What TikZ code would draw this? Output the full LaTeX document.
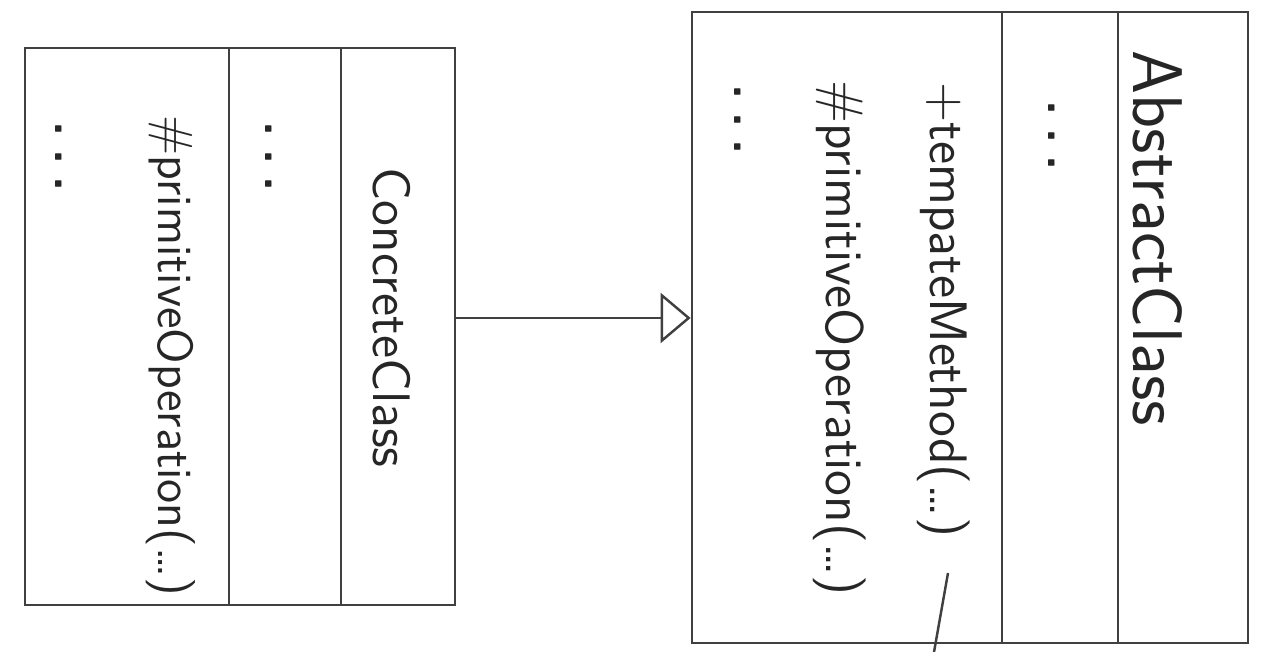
\documentclass[tikz,border=0pt]{standalone}
\usepackage{tikz}
\usetikzlibrary{positioning, arrows.meta}

\tikzset{
	classbox/.style={draw=black!75, line width=0.7pt, inner sep=0pt},
	label/.style={rotate=-90, anchor=west, inner sep=0pt, text=black!85, font=\fontsize{15}{18}\sffamily},
	dotsmark/.style={rotate=-90, anchor=west, inner sep=0pt, text=black!85, font=\fontsize{14}{16}\bfseries\sffamily}
}
\newcommand{\spreaddots}{.\hspace{0.25em}.\hspace{0.25em}.}

\begin{document}
\begin{tikzpicture}[x=0.01cm, y=0.01cm]
					\useasboundingbox (0,0) rectangle (1264,652);

					\node[classbox, minimum width=4.3cm, minimum height=5.57cm] (concrete) at (240,325.5) {};
					\draw[black!75, line width=0.7pt] (229,47) -- (229,604);
					\draw[black!75, line width=0.7pt] (341,47) -- (341,604);
					\node[label] (concretename) at (392,485) {ConcreteClass};
					\node[dotsmark] (concreteattr) at (269,531) {\spreaddots};
					\node[label, font=\fontsize{14}{17}\sffamily] (concreteop) at (171,537) {\#primitiveOperation(\dots)};
					\node[dotsmark] (concretemore) at (59,531) {\spreaddots};

					\node[classbox, minimum width=5.56cm, minimum height=6.31cm] (abstract) at (970,324.5) {};
					\draw[black!75, line width=0.7pt] (1002,9) -- (1002,640);
					\draw[black!75, line width=0.7pt] (1118,9) -- (1118,640);
					\node[label, font=\fontsize{20}{24}\sffamily] (abstractname) at (1158,602) {AbstractClass};
					\node[dotsmark] (abstractattr) at (1052,552) {\spreaddots};
					\node[label] (template) at (944,570) {+tempateMethod(\dots)};
					\node[label] (abstractop) at (840,572) {\#primitiveOperation(\dots)};
					\node[dotsmark] (abstractmore) at (738,568) {\spreaddots};

					\coordinate (arrowy) at (0,334);
					\draw[black!75, line width=0.7pt, -{Triangle[open, length=3mm, width=5mm]}] (concrete.east |- arrowy) -- (abstract.west |- arrowy);

					\coordinate (notestart) at (948,79);
					\coordinate (noteend) at (934,0);
					\draw[black!75, line width=0.7pt] (notestart) -- (noteend);
				\end{tikzpicture}
\end{document}
